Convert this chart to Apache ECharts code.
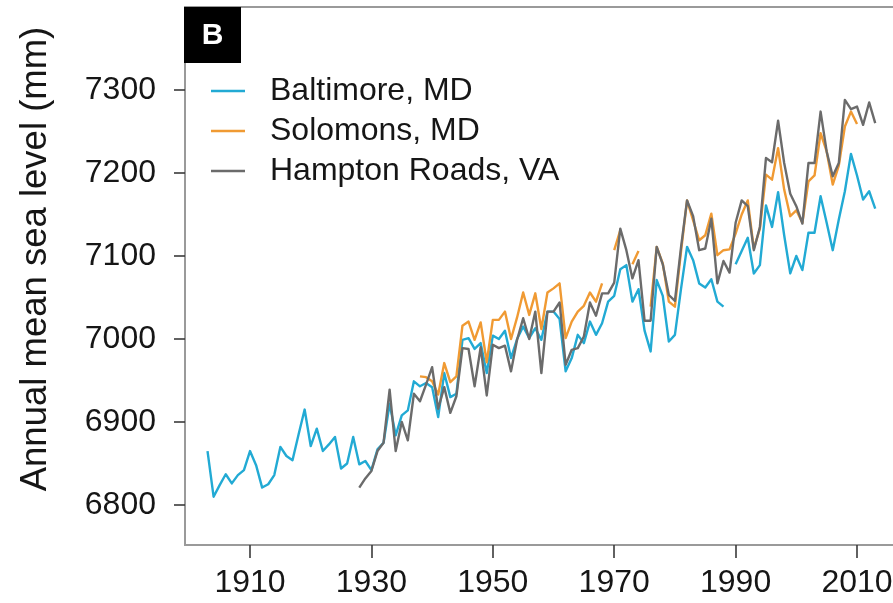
<!DOCTYPE html>
<html>
<head>
<meta charset="utf-8">
<script src="https://cdn.jsdelivr.net/npm/echarts@6/dist/echarts.min.js"></script>
<style>
  html, body { margin: 0; padding: 0; background: #ffffff; }
  #chart { width: 893px; height: 603px; }
</style>
</head>
<body>
<div id="chart"></div>
<script>
// Axis ticks
const yearTicks = [1910, 1930, 1950, 1970, 1990, 2010];
const levelTicks = [6800, 6900, 7000, 7100, 7200, 7300];

// Station names (legend order)
const stations = ['Baltimore, MD', 'Solomons, MD', 'Hampton Roads, VA'];

// Annual mean sea level (mm), one value per year from the start year; null = no data
const baltimoreStart = 1903;
const baltimoreLevel = [
  6865, 6810, 6824, 6837, 6826, 6836, 6842, 6865, 6848, 6821,
  6825, 6836, 6870, 6859, 6854, 6885, 6915, 6871, 6892, 6865,
  6873, 6882, 6844, 6850, 6882, 6849, 6853, 6842, 6867, 6875,
  6922, 6884, 6908, 6914, 6949, 6943, 6947, 6942, 6906, 6959,
  6930, 6934, 6999, 7001, 6988, 6995, 6959, 7004, 7000, 7010,
  6977, 7000, 7015, 7001, 7013, 6999, 7033, 7033, 7024, 6961,
  6977, 7005, 6995, 7021, 7005, 7019, 7045, 7052, 7084, 7089,
  7045, 7060, 7010, 6985, 7071, 7052, 6997, 7005, 7060, 7111,
  7095, 7067, 7062, 7072, 7045, 7039, null, 7090, 7106, 7122,
  7079, 7089, 7161, 7135, 7177, 7125, 7079, 7100, 7083, 7128,
  7128, 7172, 7140, 7107, 7144, 7178, 7223, 7197, 7168, 7178,
  7157
];

const solomonsStart = 1938;
const solomonsLevel = [
  6955, 6954, 6949, 6933, 6971, 6948, 6955, 7016, 7021, 6999,
  7020, 6972, 7023, 7023, 7033, 7000, 7026, 7056, 7029, 7055,
  7012, 7056, 7061, 7067, 7001, 7021, 7033, 7040, 7056, 7045,
  7067, null, 7107, 7131, null, 7090, 7106, null, 7039, 7111,
  7091, 7045, 7039, 7105, 7167, 7143, 7119, 7125, 7151, 7101,
  7107, 7108, 7127, 7150, 7167, 7109, 7133, 7198, 7192, 7230,
  7180, 7148, 7155, 7140, 7190, 7197, 7248, 7226, 7186, 7209,
  7256, 7274, 7259
];

const hamptonStart = 1928;
const hamptonLevel = [
  6821, 6832, 6841, 6865, 6875, 6939, 6865, 6900, 6878, 6934,
  6925, 6945, 6966, 6916, 6942, 6911, 6931, 6989, 6988, 6943,
  6990, 6932, 6993, 6989, 6992, 6961, 6999, 7025, 7000, 7033,
  6959, 7033, 7033, 7044, 6969, 6987, 6989, 7003, 7044, 7028,
  7055, 7055, 7068, 7133, 7107, 7073, 7095, 7022, 7022, 7111,
  7090, 7053, 7046, 7110, 7167, 7148, 7107, 7109, 7145, 7067,
  7094, 7080, 7140, 7167, 7160, 7107, 7135, 7218, 7213, 7263,
  7212, 7175, 7160, 7139, 7212, 7212, 7274, 7226, 7196, 7212,
  7288, 7277, 7280, 7258, 7285, 7260
];

const colors = ['#22aad4', '#f09a33', '#6b6b6b'];

function yearPairs(start, values) {
  return values.map(function (v, i) { return [start + i, v]; });
}

const textColor = '#161616';
const fontFamily = "'Liberation Sans', Arial, Helvetica, sans-serif";

const chart = echarts.init(document.getElementById('chart'), null, { renderer: 'canvas' });

function lineSeries(name, data, color) {
  return {
    name: name,
    type: 'line',
    data: data,
    symbol: 'none',
    connectNulls: false,
    lineStyle: { color: color, width: 2.4, join: 'round' },
    itemStyle: { color: color },
    emphasis: { disabled: true },
    animation: false
  };
}

function plainNumber(v) { return String(Math.round(v)); }

chart.setOption({
  backgroundColor: '#ffffff',
  animation: false,
  textStyle: { fontFamily: fontFamily },
  grid: {
    left: 185,
    top: 7,
    width: 740,
    height: 538,
    outerBoundsMode: 'none',
    containLabel: false,
    show: true,
    borderColor: '#9a9a9a',
    borderWidth: 2,
    backgroundColor: 'transparent'
  },
  xAxis: {
    type: 'value',
    min: 1899.29,
    max: 2021.2,
    axisLine: { show: false },
    splitLine: { show: false },
    axisTick: {
      show: true, inside: false, length: 13,
      customValues: yearTicks,
      lineStyle: { color: '#3a3a3a', width: 1.6 }
    },
    axisLabel: {
      customValues: yearTicks,
      formatter: plainNumber,
      margin: 22,
      fontSize: 32,
      color: textColor,
      fontFamily: fontFamily
    }
  },
  yAxis: {
    type: 'value',
    min: 6751.8,
    max: 7400,
    name: 'Annual mean sea level (mm)',
    nameLocation: 'middle',
    nameGap: 131,
    nameRotate: 90,
    nameTextStyle: { fontSize: 36.5, color: textColor, fontFamily: fontFamily, padding: [0, 0, 0, 34] },
    axisLine: { show: false },
    splitLine: { show: false },
    axisTick: {
      show: true, inside: false, length: 11,
      customValues: levelTicks,
      lineStyle: { color: '#3a3a3a', width: 1.6 }
    },
    axisLabel: {
      customValues: levelTicks,
      formatter: plainNumber,
      margin: 29,
      fontSize: 32,
      color: textColor,
      fontFamily: fontFamily
    }
  },
  legend: {
    data: stations,
    orient: 'vertical',
    left: 211,
    top: 71,
    padding: 0,
    itemGap: 0,
    itemWidth: 34,
    itemHeight: 2.5,
    icon: 'rect',
    selectedMode: false,
    textStyle: {
      fontSize: 32,
      color: textColor,
      fontFamily: fontFamily,
      lineHeight: 40,
      padding: [0, 0, 0, 20]
    }
  },
  graphic: [
    {
      type: 'group',
      left: 184,
      top: 7,
      children: [
        { type: 'rect', shape: { x: 0, y: 0, width: 57, height: 56 }, style: { fill: '#000000' } },
        {
          type: 'text',
          x: 28.5, y: 29,
          style: {
            text: 'B', fill: '#ffffff', font: 'bold 30px ' + fontFamily,
            align: 'center', verticalAlign: 'middle'
          }
        }
      ]
    }
  ],
  series: [
    lineSeries(stations[0], yearPairs(baltimoreStart, baltimoreLevel), colors[0]),
    lineSeries(stations[1], yearPairs(solomonsStart, solomonsLevel), colors[1]),
    lineSeries(stations[2], yearPairs(hamptonStart, hamptonLevel), colors[2])
  ]
});
</script>
</body>
</html>
